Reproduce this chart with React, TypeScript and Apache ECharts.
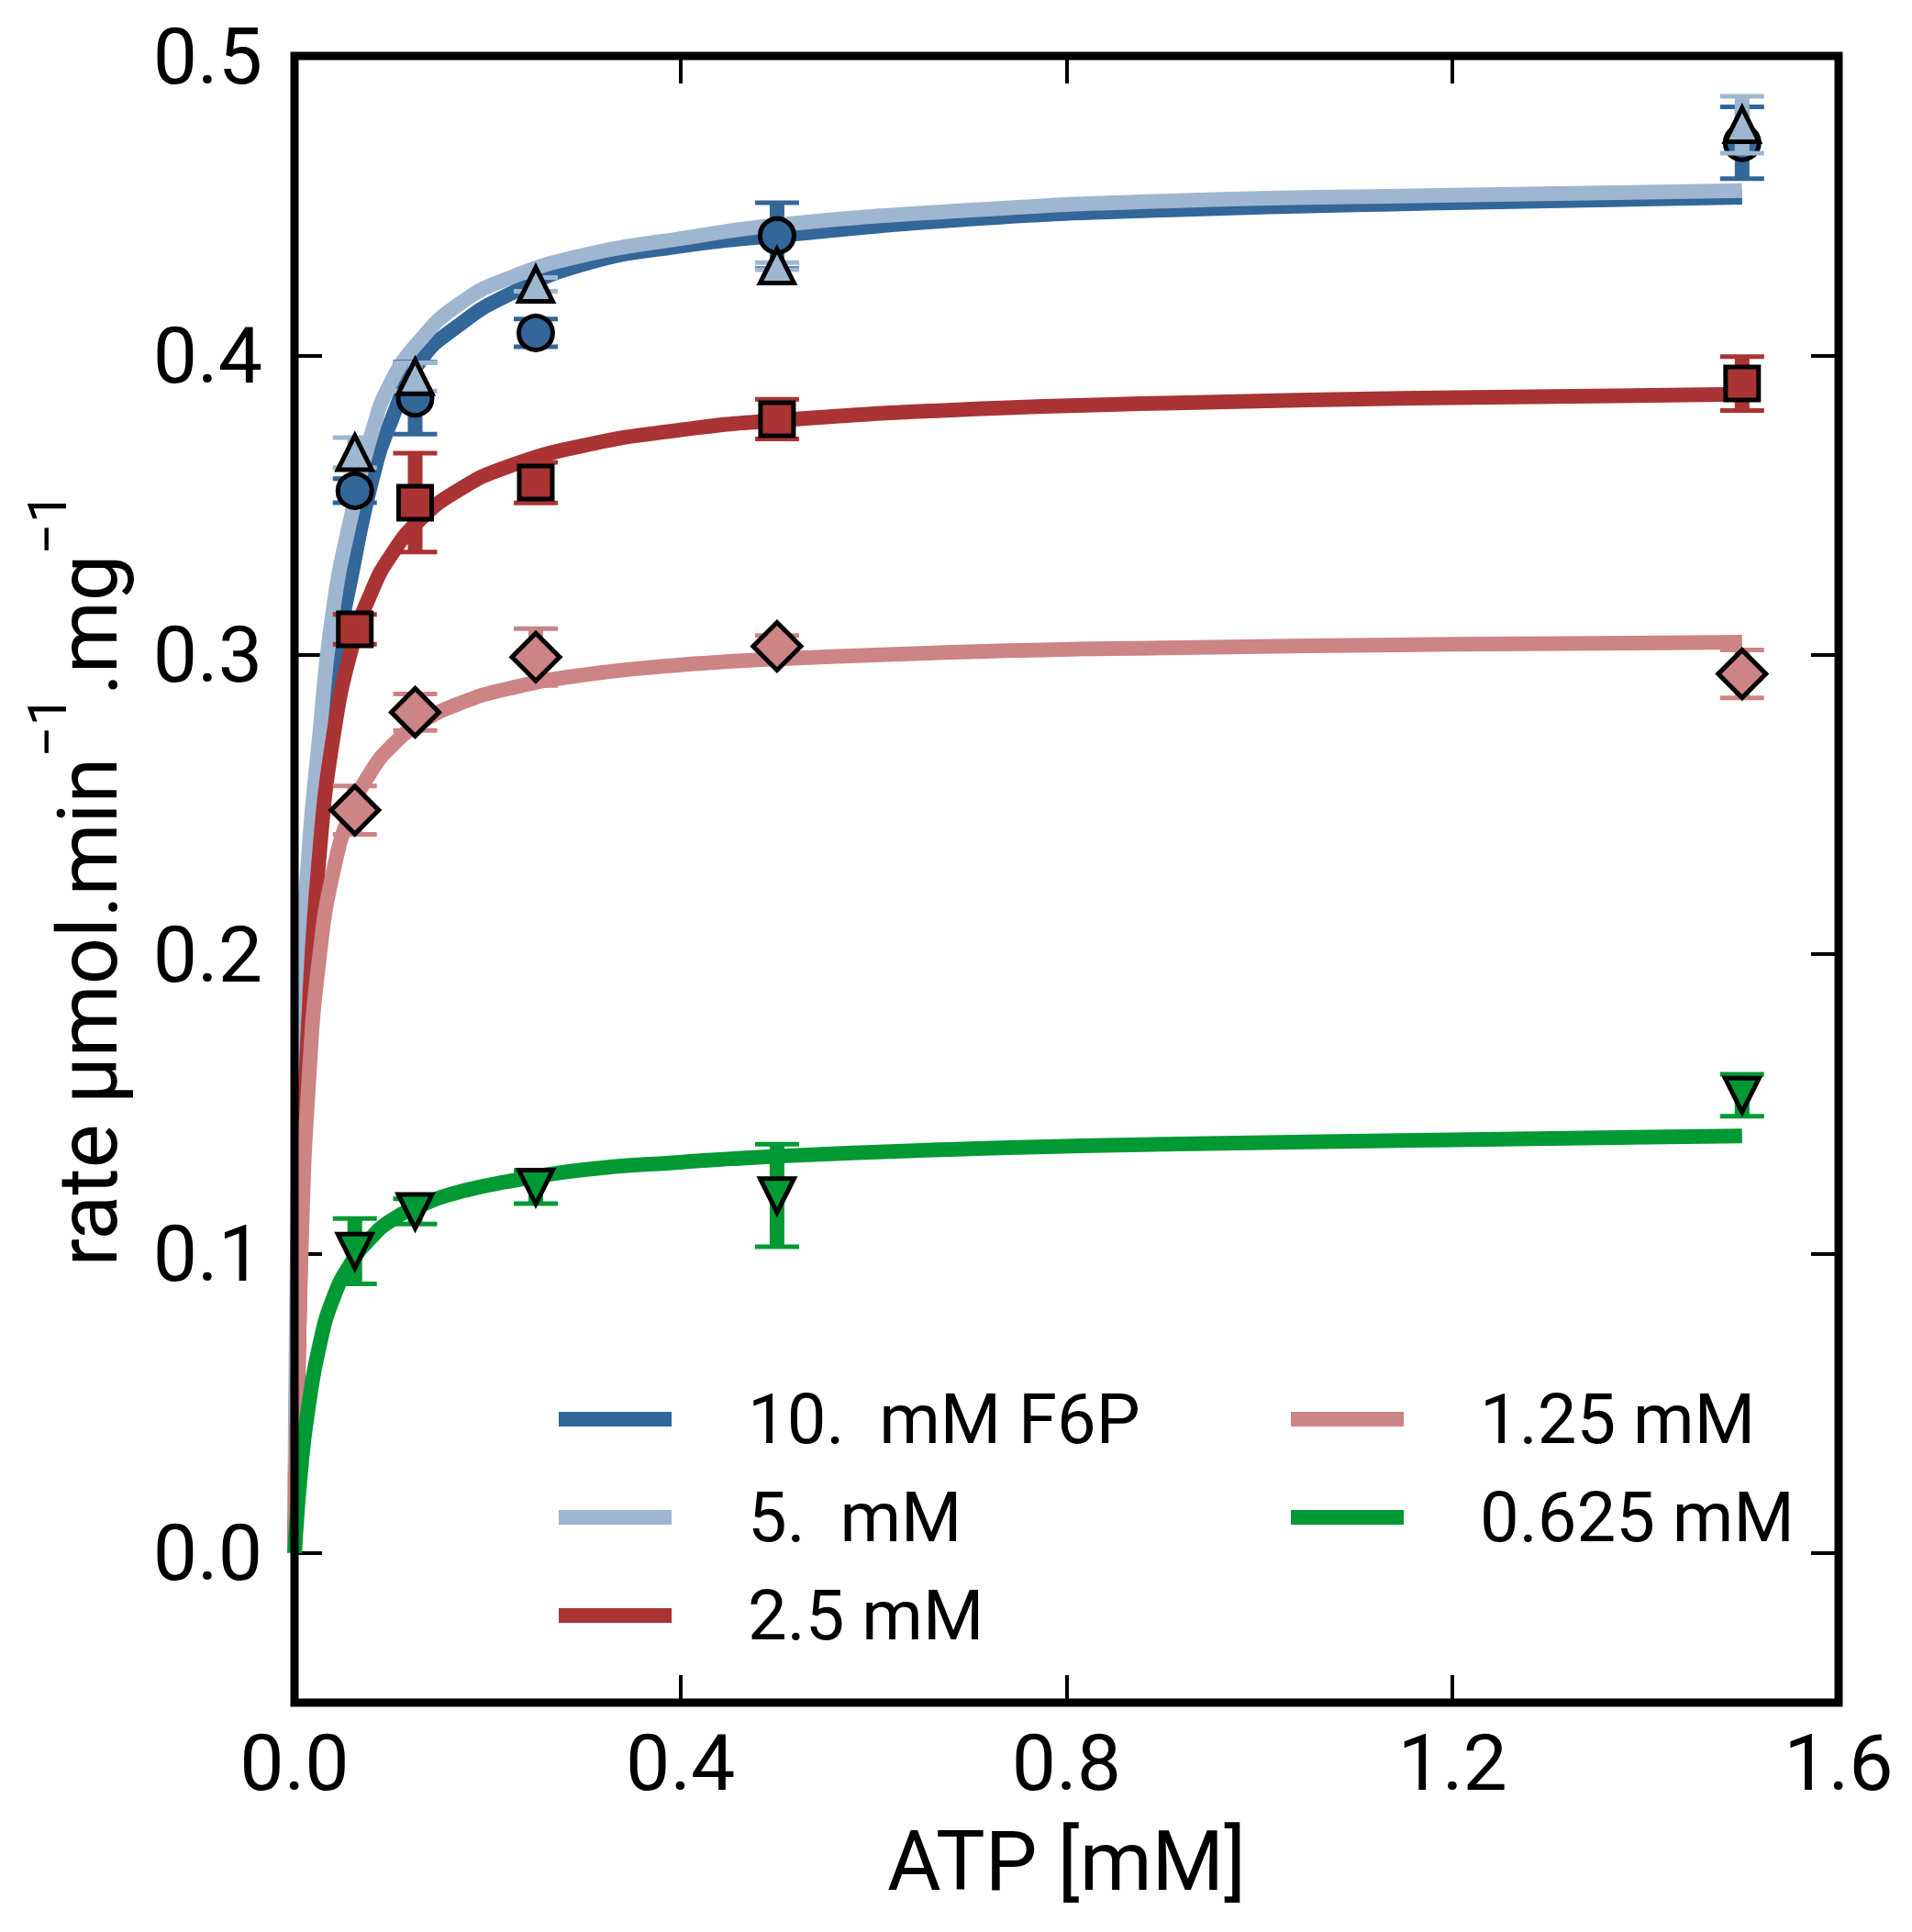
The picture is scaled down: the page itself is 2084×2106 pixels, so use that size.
import React, { useEffect, useRef } from "react";
import * as echarts from "echarts";

// ATP concentrations of the measured points [mM]
const atp = [0.0625, 0.125, 0.25, 0.5, 1.5];

// measured rates and their errors, one list per F6P concentration
const rate10 = [0.3548, 0.3857, 0.4075, 0.44, 0.471];
const err10 = [0.004, 0.012, 0.0046, 0.011, 0.012];
const rate5 = [0.3675, 0.3928, 0.4237, 0.4298, 0.477];
const err5 = [0.005, 0.0047, 0.0023, 0.0012, 0.0095];
const rate25 = [0.3085, 0.3508, 0.3575, 0.3787, 0.3906];
const err25 = [0.005, 0.0165, 0.0068, 0.0066, 0.009];
const rate125 = [0.2481, 0.2808, 0.2992, 0.3028, 0.2936];
const err125 = [0.0081, 0.0061, 0.0095, 0.0036, 0.008];
const rate0625 = [0.1008, 0.1141, 0.1222, 0.1194, 0.1529];
const err0625 = [0.0109, 0.0042, 0.0055, 0.0171, 0.007];

// fitted curves
const fitX = [0, 0.0075, 0.015, 0.025, 0.04, 0.06, 0.08, 0.1, 0.13, 0.17, 0.22, 0.3, 0.4, 0.5, 0.7, 0.9, 1.2, 1.5];
const fit10 = [0, 0.15, 0.205, 0.25, 0.293, 0.328, 0.358, 0.378, 0.398, 0.41, 0.42, 0.4305, 0.4365, 0.44, 0.4455, 0.4485, 0.451, 0.4528];
const fit5 = [0, 0.19, 0.235, 0.27, 0.315, 0.348, 0.374, 0.391, 0.405, 0.417, 0.4255, 0.4335, 0.439, 0.4435, 0.4485, 0.4515, 0.4535, 0.455];
const fit25 = [0, 0.1175, 0.1807, 0.2303, 0.2723, 0.3031, 0.3212, 0.3332, 0.3451, 0.355, 0.3627, 0.3699, 0.3751, 0.3783, 0.382, 0.384, 0.3859, 0.387];
const fit125 = [0, 0.1071, 0.1588, 0.1968, 0.2274, 0.2489, 0.2613, 0.2693, 0.2772, 0.2836, 0.2886, 0.2933, 0.2966, 0.2986, 0.301, 0.3023, 0.3035, 0.3042];
const fit0625 = [0, 0.031, 0.05, 0.068, 0.085, 0.0975, 0.1055, 0.111, 0.116, 0.1205, 0.124, 0.128, 0.1305, 0.1325, 0.135, 0.1365, 0.138, 0.1393];

const names = ["10.  mM F6P", "5.  mM", "2.5 mM", "1.25 mM", "0.625 mM"];
const colors = ["#336699", "#9fb6d0", "#aa3333", "#cc8484", "#009933"];
const symbols = ["circle", "triangle", "rect", "diamond", "triangle"];
const symbolSizes = [37, 37, 36, 52, 37];
const symbolRotates = [0, 0, 0, 0, 180];

const yTicks = [0, 0.1, 0.2, 0.3, 0.4, 0.5];
const FONT = "Roboto, 'DejaVu Sans', sans-serif";

function App() {
  const chartRef = useRef<HTMLDivElement>(null);

  useEffect(() => {
    document.body.style.margin = "0";
    const myChart = echarts.init(chartRef.current!, null, { renderer: "svg" });

    const rates = [rate10, rate5, rate25, rate125, rate0625];
    const errs = [err10, err5, err25, err125, err0625];
    const fits = [fit10, fit5, fit25, fit125, fit0625];

    const lineSeries: any[] = fits.map((f, i) => ({
      name: names[i],
      type: "line",
      data: fitX.map((x, j) => [x, f[j]]),
      showSymbol: false,
      smooth: 0.5,
      color: colors[i],
      lineStyle: { width: 16, color: colors[i], cap: "butt", join: "round" },
      z: 2,
    }));

    const pointSeries: any[] = [];
    rates.forEach((r, i) => {
      pointSeries.push({
        name: "err" + i,
        type: "custom",
        data: atp.map((x, j) => [x, r[j], errs[i][j]]),
        encode: { x: 0, y: 1 },
        itemStyle: { color: colors[i] },
        z: 3 + i * 2,
        renderItem: (params: any, api: any) => {
          const x = api.value(0);
          const y = api.value(1);
          const e = api.value(2);
          const top = api.coord([x, y + e]);
          const bot = api.coord([x, y - e]);
          const c = colors[i];
          return {
            type: "group",
            children: [
              { type: "line", shape: { x1: top[0], y1: top[1], x2: bot[0], y2: bot[1] }, style: { stroke: c, lineWidth: 16 } },
              { type: "line", shape: { x1: top[0] - 24, y1: top[1], x2: top[0] + 24, y2: top[1] }, style: { stroke: c, lineWidth: 5 } },
              { type: "line", shape: { x1: bot[0] - 24, y1: bot[1], x2: bot[0] + 24, y2: bot[1] }, style: { stroke: c, lineWidth: 5 } },
            ],
          };
        },
      });
      pointSeries.push({
        name: "pts" + i,
        type: "scatter",
        data: atp.map((x, j) => [x, r[j]]),
        symbol: symbols[i],
        symbolSize: symbolSizes[i],
        symbolRotate: symbolRotates[i],
        itemStyle: { color: colors[i], borderColor: "#000", borderWidth: 5, opacity: 1 },
        z: 4 + i * 2,
      });
    });

    const tickStyle = { inside: true, length: 30, lineStyle: { width: 4, color: "#000" } };
    const labelStyle = { color: "#000", fontSize: 86, fontFamily: FONT };
    const noLine = { show: false, onZero: false };

    const legendCommon = {
      orient: "vertical",
      top: 1502,
      icon: "rect",
      itemWidth: 123,
      itemHeight: 16,
      itemGap: 27,
      textStyle: { fontSize: 76, fontFamily: FONT, color: "#000", lineHeight: 80, padding: [0, 0, 0, 78] },
    };

    const option: echarts.EChartsOption = {
      animation: false,
      backgroundColor: "#fff",
      grid: {
        left: 321,
        right: 80,
        top: 61,
        bottom: 250,
        show: true,
        borderColor: "#000",
        borderWidth: 9,
        backgroundColor: "transparent",
        z: 30,
      } as any,
      legend: [
        { ...legendCommon, left: 604, data: names.slice(0, 3) } as any,
        { ...legendCommon, left: 1402, data: names.slice(3) } as any,
      ],
      xAxis: [
        {
          type: "value",
          min: 0,
          max: 1.6,
          interval: 0.4,
          name: "ATP [mM]",
          nameLocation: "middle",
          nameGap: 128,
          nameTextStyle: { fontSize: 90, fontFamily: FONT, color: "#000" },
          axisLine: noLine,
          axisTick: tickStyle,
          splitLine: { show: false },
          axisLabel: { ...labelStyle, margin: 22, formatter: (v: number) => v.toFixed(1), showMinLabel: true, showMaxLabel: true },
        },
        {
          type: "value",
          position: "top",
          min: 0,
          max: 1.6,
          interval: 0.4,
          axisLine: noLine,
          axisTick: tickStyle,
          splitLine: { show: false },
          axisLabel: { show: false },
        },
      ] as any,
      yAxis: [
        {
          type: "value",
          min: -0.05,
          max: 0.5,
          name: "{b|rate µmol.min}{s|−1}{b|.mg}{s|−1}",
          nameLocation: "middle",
          nameRotate: 90,
          nameGap: 180,
          nameTextStyle: {
            fontFamily: FONT,
            color: "#000",
            rich: {
              b: { fontSize: 90, fontFamily: FONT, color: "#000", lineHeight: 120, verticalAlign: "bottom" },
              s: { fontSize: 60, fontFamily: FONT, color: "#000", lineHeight: 120, verticalAlign: "top" },
            },
          },
          axisLine: noLine,
          axisTick: { ...tickStyle, customValues: yTicks },
          splitLine: { show: false },
          axisLabel: { ...labelStyle, margin: 35, customValues: yTicks, formatter: (v: number) => v.toFixed(1) },
        },
        {
          type: "value",
          position: "right",
          min: -0.05,
          max: 0.5,
          axisLine: noLine,
          axisTick: { ...tickStyle, customValues: yTicks },
          splitLine: { show: false },
          axisLabel: { show: false },
        },
      ] as any,
      series: [...lineSeries, ...pointSeries],
    };

    myChart.setOption(option);

    return () => {
      myChart.dispose();
    };
  }, []);

  return <div ref={chartRef} style={{ width: 2084, height: 2106 }} />;
}

export default App;
